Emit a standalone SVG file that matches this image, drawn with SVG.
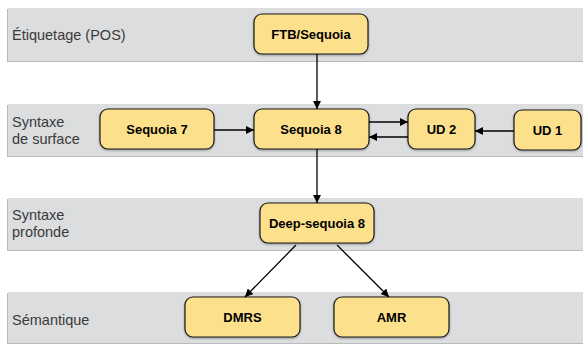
<svg xmlns="http://www.w3.org/2000/svg" width="583" height="345" viewBox="0 0 583 345">
<defs>
<marker id="ah" viewBox="0 0 10 10" refX="10" refY="5" markerWidth="8" markerHeight="8" markerUnits="userSpaceOnUse" orient="auto">
<path d="M0,0 L10,5 L0,10 z" fill="#000"/>
</marker>
<filter id="sh" x="-10%" y="-10%" width="130%" height="140%">
<feDropShadow dx="0" dy="1" stdDeviation="1" flood-color="#000" flood-opacity="0.35"/>
</filter>
</defs>
<style>
.band{fill:#DCDDDF;}
.bandsh{fill:#B9BABC;}
.lbl{font-family:"Liberation Sans",Arial,sans-serif;font-size:14.5px;fill:#3a3a3a;}
.node rect{fill:#FDE08C;stroke:#1a1a1a;stroke-width:1.2;filter:url(#sh);}
.node text{font-family:"Liberation Sans",Arial,sans-serif;font-size:13px;font-weight:bold;fill:#000;text-anchor:middle;}
.conn line{stroke:#000;stroke-width:1.3;marker-end:url(#ah);}
</style>
<g id="bands">
<rect class="bandsh" x="7" y="9" width="576" height="53"/>
<rect class="band" x="8" y="8" width="575" height="53"/>
<rect class="bandsh" x="7" y="105" width="576" height="52"/>
<rect class="band" x="8" y="104" width="575" height="52"/>
<rect class="bandsh" x="7" y="199" width="576" height="52"/>
<rect class="band" x="8" y="198" width="575" height="52"/>
<rect class="bandsh" x="7" y="293" width="576" height="51"/>
<rect class="band" x="8" y="292" width="575" height="51"/>
<text class="lbl" x="12" y="40">Étiquetage (POS)</text>
<text class="lbl" x="12" y="127">Syntaxe</text>
<text class="lbl" x="12" y="144">de surface</text>
<text class="lbl" x="12" y="220">Syntaxe</text>
<text class="lbl" x="12" y="237">profonde</text>
<text class="lbl" x="12" y="325">Sémantique</text>
</g>
<g id="ftb" class="node"><rect x="254" y="14" width="114" height="40" rx="8"/><text x="311" y="39">FTB/Sequoia</text></g>
<g id="seq7" class="node"><rect x="100" y="109" width="114" height="40" rx="8"/><text x="157" y="134">Sequoia 7</text></g>
<g id="seq8" class="node"><rect x="254" y="109" width="115" height="40" rx="8"/><text x="311" y="134">Sequoia 8</text></g>
<g id="ud2" class="node"><rect x="408" y="109" width="67" height="40" rx="8"/><text x="441.5" y="134">UD 2</text></g>
<g id="ud1" class="node"><rect x="514" y="110" width="67" height="40" rx="8"/><text x="547.5" y="135">UD 1</text></g>
<g id="deep" class="node"><rect x="260" y="203" width="114" height="40" rx="8"/><text x="317" y="228">Deep-sequoia 8</text></g>
<g id="dmrs" class="node"><rect x="185" y="297" width="115" height="40" rx="8"/><text x="242.5" y="322">DMRS</text></g>
<g id="amr" class="node"><rect x="334" y="297" width="115" height="40" rx="8"/><text x="391.5" y="322">AMR</text></g>
<g id="connectors" class="conn">
<line x1="317" y1="54" x2="317" y2="109"/>
<line x1="214" y1="130" x2="254" y2="130"/>
<line x1="369" y1="122" x2="408" y2="122"/>
<line x1="408" y1="137" x2="369" y2="137"/>
<line x1="514" y1="131" x2="475" y2="131"/>
<line x1="317" y1="149" x2="317" y2="203"/>
<line x1="296" y1="245" x2="245" y2="297"/>
<line x1="337" y1="245" x2="389" y2="297"/>
</g>
</svg>
